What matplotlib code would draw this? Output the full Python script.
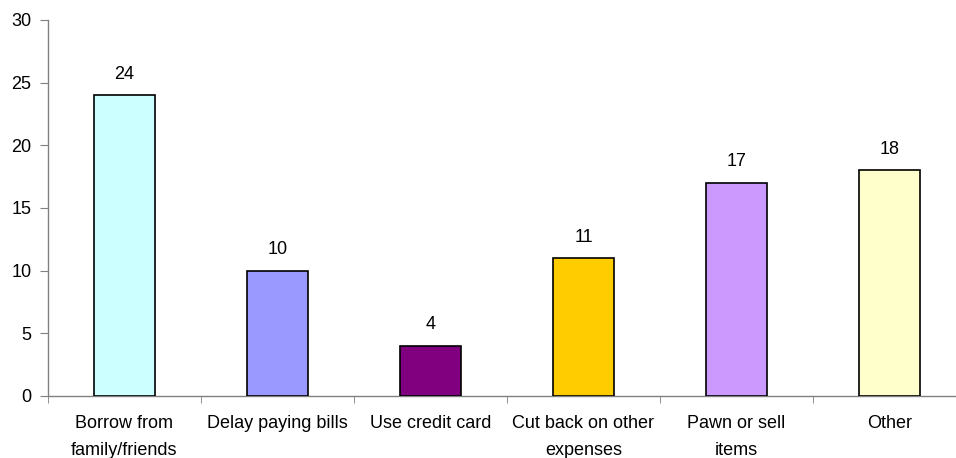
import matplotlib
matplotlib.use("Agg")
import matplotlib.pyplot as plt
import numpy as np

categories = ["Borrow from\nfamily/friends", "Delay paying bills", "Use credit card",
              "Cut back on other\nexpenses", "Pawn or sell\nitems", "Other"]
values = [24, 10, 4, 11, 17, 18]
colors = ["#CCFFFF", "#9999FF", "#800080", "#FFCC00", "#CC99FF", "#FFFFCC"]
yticks = [0, 5, 10, 15, 20, 25, 30]

plt.rcParams["font.family"] = ["Liberation Sans", "DejaVu Sans"]
FS = 13

fig = plt.figure(figsize=(9.56, 4.58), dpi=100)
ax = fig.add_axes([48 / 956, 62 / 458, 918 / 956, 376 / 458])

x = np.arange(len(categories))
ax.bar(x, values, width=0.4, color=colors, edgecolor="black", linewidth=1.2, zorder=3)
for xi, v in zip(x, values):
    ax.text(xi, v + 1.0, str(v), ha="center", va="bottom", fontsize=FS)

ax.set_xlim(-0.5, 5.5)
ax.set_ylim(0, 30)
ax.set_yticks(yticks)
ax.set_yticklabels([str(t) for t in yticks], fontsize=FS)

ax.set_xticks(x)
ax.set_xticklabels(categories, fontsize=FS, linespacing=1.7, va="top")
ax.tick_params(axis="x", length=0, pad=14)
ax.set_xticks(np.arange(len(categories) + 1) - 0.5, minor=True)
ax.tick_params(axis="x", which="minor", length=5, color="#808080", direction="out")
ax.tick_params(axis="y", length=6, color="#808080", direction="out", pad=6)

for s in ["top", "right"]:
    ax.spines[s].set_visible(False)
for s in ["left", "bottom"]:
    ax.spines[s].set_color("#808080")
    ax.spines[s].set_linewidth(1.0)

fig.savefig("out.png", dpi=100)
